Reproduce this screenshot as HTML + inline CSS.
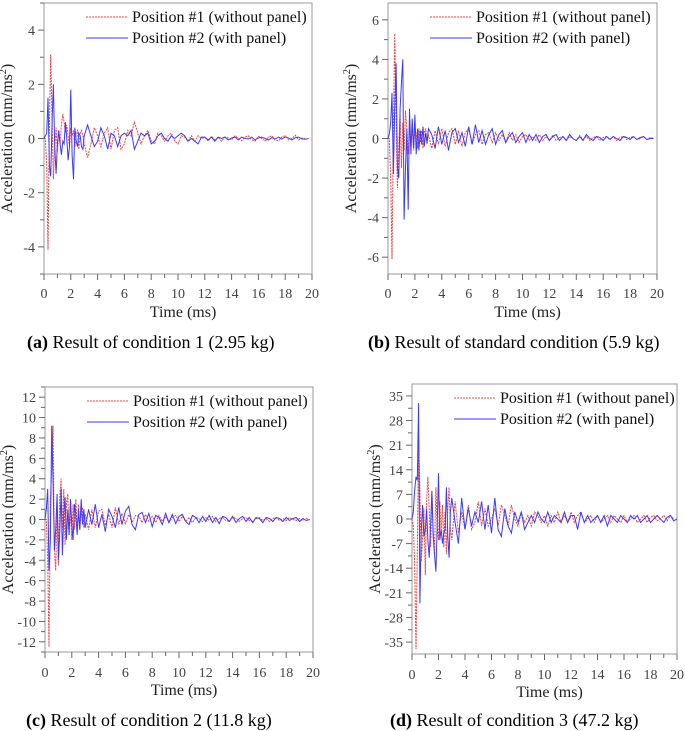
<!DOCTYPE html>
<html><head><meta charset="utf-8">
<style>
body{margin:0;background:#fff;width:685px;height:731px;overflow:hidden;font-family:"Liberation Serif",serif;}
svg{position:absolute;left:0;top:0}
</style></head>
<body>
<svg id="chart" width="685" height="731"></svg>
<script>
// shared time axis (ms)
const timeFine = [0,0.1,0.2,0.3,0.4,0.5,0.6,0.7,0.8,0.9,1.0,1.1,1.2,1.3,1.4,1.5,1.6,1.7,1.8,1.9,2.0,2.1,2.2,2.3,2.4,2.5,2.6,2.7,2.8,2.9,3.0];
const timeCoarse = [3.25,3.5,3.75,4,4.25,4.5,4.75,5,5.25,5.5,5.75,6,6.25,6.5,6.75,7,7.25,7.5,7.75,8,8.25,8.5,8.75,9,9.25,9.5,9.75,10,10.25,10.5,10.75,11,11.25,11.5,11.75,12,12.25,12.5,12.75,13,13.25,13.5,13.75,14,14.25,14.5,14.75,15,15.25,15.5,15.75,16,16.25,16.5,16.75,17,17.25,17.5,17.75,18,18.25,18.5,18.75,19,19.25,19.5,19.75,20];
const xTicks = [0,2,4,6,8,10,12,14,16,18,20];

// Panel (a)
const aP1 = [0,0,-1,-4.1,0.5,3.1,0.8,-1.5,-0.3,0.4,-0.5,0.3,-0.2,0.5,0.9,0.6,0.2,0.5,0.1,-0.3,0.4,0.1,0.3,-0.3,0.2,0.3,-0.4,0.2,0.3,0.1,-0.2,
 -0.7,-0.2,0.4,0.1,-0.3,0.2,0.4,-0.4,0.3,0.4,-0.4,-0.2,0.3,0.1,0.6,0.2,-0.2,0.1,0.3,-0.1,-0.2,0.2,0.1,-0.1,0.1,0.2,-0.1,-0.2,0.1,0.05,-0.1,0.1,-0.1,0.1,0,0.05,
 -0.1,0.08,-0.05,0.05,-0.1,0.05,0.02,-0.05,0.1,0,-0.08,0.05,0.1,-0.05,-0.1,0.08,0,-0.1,0.05,0.1,-0.05,-0.08,0.06,0.1,-0.05,0,0.12,-0.05,0.02,0];
const aP2 = [0,0.1,0.2,1.5,-1.0,-1.4,0.5,2.0,-0.3,-1.3,-0.2,0.3,-0.2,-0.6,-0.1,-0.2,0.6,0,-0.8,-0.3,1.8,-0.6,-1.5,0.4,-0.1,-0.3,0.2,0.1,-0.3,-0.4,0.1,
 0.5,0.1,-0.3,-0.1,0.4,0.1,-0.4,0.2,0.1,-0.3,0.1,0.2,0.1,0.3,-0.4,-0.1,0.2,0.1,0.2,-0.2,-0.1,0.1,0.2,0,-0.1,0.1,0,0.1,0.2,0.1,-0.1,0,-0.1,-0.2,0.05,
 0.05,-0.05,0.05,-0.1,0.05,0,0.05,-0.05,0.02,0.05,-0.05,0.05,0,-0.02,0.05,-0.05,0.02,0.05,0,-0.05,0.03,-0.02,0.05,-0.02,0.06,0.02,-0.05,0.03,0.05,-0.02,-0.03,0];
const aYTicks = [-4,-2,0,2,4];

// Panel (b)
const bP1 = [0,0,-2,-6.1,0.5,5.3,1.2,-2.5,-0.5,1.2,-1.5,0.8,-0.6,1.4,0.5,-0.8,0.9,-0.4,0.7,-0.6,0.6,0.2,-0.5,0.5,-0.2,0.4,-0.5,0.3,0.5,-0.3,0.2,
 -0.5,0.4,-0.3,0.5,-0.4,0.3,0.5,-0.3,0.4,-0.4,0.3,0.5,-0.3,0.2,0.4,-0.3,0.2,0.3,-0.2,0.3,-0.1,0.2,-0.2,0.3,-0.1,0.2,-0.2,0.1,0.2,-0.1,0.1,-0.1,0.2,-0.1,0.1,
 -0.1,0.15,-0.1,0.05,0.1,-0.1,0.1,0,-0.1,0.15,-0.05,0.1,-0.1,0.05,0.1,-0.1,0.05,0.1,-0.05,0.1,-0.1,0.05,0.1,-0.05,0.05,0.1,-0.05,0,0.1,-0.05,0.05,0];
const bP2 = [0,0.2,0.8,2.3,-1.8,1.5,3.8,-1.5,-2.0,1.5,2.8,4.0,-4.1,-1.5,0.5,-3.6,1.5,-0.8,1.0,-0.5,1.2,-0.8,0.5,-0.6,0.4,-0.3,0.6,-0.4,0.3,-0.2,0.5,
 0.2,-0.5,0.6,-0.3,0.4,-0.6,0.3,0.5,-0.2,0.3,-0.4,0.6,-0.3,0.7,-0.2,0.4,-0.3,0.2,0.5,-0.3,0.2,0.4,-0.2,0.1,0.3,-0.2,0.1,0.3,-0.2,0.2,-0.1,0.2,-0.2,0.1,0.2,
 -0.1,0.1,0.2,-0.1,0.1,-0.1,0.2,0,-0.1,0.1,-0.1,0.2,0,-0.1,0.1,0.05,-0.1,0.1,-0.05,0.1,0,-0.1,0.1,0.05,-0.05,0.1,-0.05,0.05,0.1,-0.05,0,0];
const bYTicks = [-6,-4,-2,0,2,4,6];

// Panel (c)
const cP1 = [0,0,-4,-12.5,2,5,9.2,-3,-5,1.5,-4.5,2,4,-1,3,-2.5,1.5,2.5,-1.5,1,-2,1.5,-1,2,-1.2,1.5,-1,0.8,1.2,-0.8,0.5,
 -1,1,-0.8,0.8,1,-0.6,0.5,-0.8,1.2,-0.5,0.6,-0.4,0.5,-0.3,0.4,0.3,-0.3,0.5,-0.2,0.3,-0.3,0.4,-0.2,0.3,-0.3,0.2,0.4,-0.2,0.3,-0.2,0.2,-0.3,0.2,0.1,-0.2,
 0.2,-0.1,0.3,-0.2,0.1,0.2,-0.1,-0.2,0.2,0.1,-0.2,0.1,0.2,-0.1,-0.2,0.1,0.2,-0.1,0.1,-0.2,0.1,0.2,-0.1,0.1,-0.1,0.2,0,-0.1,0.1,-0.1,0.1,0];
const cP2 = [0,1,3,-5,-2,9.2,4,-3,-1,2.5,-4,-1.5,3,-3.5,0.5,2.2,-2,1,-1.5,2,-0.5,-2,1.5,0.5,-1.5,1,-1,2,-0.5,1,-0.8,
 1,-0.5,1.5,-0.8,0.5,-1.2,1,0.3,-0.8,1.2,-0.5,0.8,1.3,-0.5,-1,0.5,0.7,-0.3,0.6,-0.7,0.4,0.2,-0.5,0.6,-0.3,0.5,-0.4,0.3,0.5,-0.2,-0.5,0.4,0.2,-0.3,0.3,
 -0.2,0.4,-0.3,0.2,-0.4,0.3,0.2,-0.2,0.3,-0.3,0.1,0.3,-0.2,0.2,-0.3,0.2,0.1,-0.3,0.2,0.1,-0.2,0.2,0.1,-0.2,0.2,-0.1,0.1,0.2,-0.2,0.1,-0.1,0];
const cYTicks = [-12,-10,-8,-6,-4,-2,0,2,4,6,8,10,12];

// Panel (d)
const dP1 = [0,-2,-12,-37,-10,23,8,-12,-5,3,-16,5,12,3,-8,8,-3,-10,9,-2,-6,5,-4,4,-8,2,-10,3,9,-3,-6,
 5,-4,2,-3,4,-3,-1,5,-2,3,-2,0,3,-2,4,1,-2,4,0,-2,2,-1,1,-2,2,1,-1,1,-2,1,-1,2,-1,1,-1,2,
 -1,1,2,-1,0,1,-1,1,-1,0,1,-1,1,0,-1,1,-1,0,1,-1,0,1,-1,0.5,1,-0.5,0,1,-0.5,1,0];
const dP2 = [0,2,8,12,11,33,-24,-3,4,-5,-3,3,-6,-11,-2,8,-5,-10,-15,-2,13,-6,-3,-7,-4,-3,9,-5,-11,2,6,
 -1,-7,6,-3,3,-2,2,-1,5,-3,4,-4,6,-3,-5,3,-2,-4,2,-1,2,-3,-1,1,-1,2,0,-1,2,-1,1,0,-1,2,-1,1,
 1,-3,2,-1,1,-1,0,1,-1,1,-2,1,0,-1,1,0,-1,1,0,1,-1,0,1,-1,0,1,0,-1,0.5,1,-0.5,0];
const dYTicks = [-35,-28,-21,-14,-7,0,7,14,21,28,35];

const NS = "http://www.w3.org/2000/svg";
const svg = document.getElementById('chart');
function mk(tag, attrs, parent){ const e=document.createElementNS(NS,tag); for(const k in attrs) e.setAttribute(k,attrs[k]); (parent||svg).appendChild(e); return e; }
const times = timeFine.concat(timeCoarse);

function panel(id, L, R, T, B, ymin, ymax, yTicks, p1, p2, caption, capBold, capX, capY, labOff, titleOff){
  const g = mk('g', {});
  
  
  const xs = v => L + (v/20)*(R-L);
  const ys = v => B - (v-ymin)/(ymax-ymin)*(B-T);
  const frame = mk('rect', {x:L,y:T,width:R-L,height:B-T,fill:'none',stroke:'#999','stroke-width':1}, g);
  
  
  for(let t=0;t<=20;t++){
    const major = t%2===0;
    mk('line',{x1:xs(t),x2:xs(t),y1:B,y2:B+(major?6:4),stroke:'#666'},g);
  }
  xTicks.forEach(t=>{
    const tx = mk('text',{x:xs(t),y:B+labOff,'text-anchor':'middle','font-size':14,fill:'#444'},g);
    tx.textContent = t;
    
    
  });
  const step = yTicks[1]-yTicks[0];
  for(let v=yTicks[0]-step/2; v<=yTicks[yTicks.length-1]+step/2+1e-9; v+=step/2){
    if (v < ymin || v > ymax) continue;
    const major = Math.abs(Math.round(v/step)*step - v) < 1e-6;
    mk('line',{x1:L-(major?6:4),x2:L,y1:ys(v),y2:ys(v),stroke:'#666'},g);
  }
  yTicks.forEach(v=>{
    const tx = mk('text',{x:L-9,y:ys(v)+5,'text-anchor':'end','font-size':14,fill:'#444'},g);
    tx.textContent = v;
    
    
  });
  const xt = mk('text',{x:(L+R)/2+5,y:B+titleOff,'text-anchor':'middle','font-size':16,fill:'#222'},g);
  xt.textContent = 'Time (ms)';
  
  
  const yt = mk('text',{x:0,y:0,'text-anchor':'middle','font-size':16,fill:'#222',transform:`translate(${L-32},${(T+B)/2}) rotate(-90)`},g);
  yt.innerHTML = 'Acceleration (mm/ms<tspan font-size="10" dy="-6">2</tspan><tspan dy="6">)</tspan>';
  
  
  const path = arr => arr.map((v,i)=>(i?'L':'M')+xs(times[i]).toFixed(1)+','+ys(v).toFixed(1)).join('');
  const s1 = mk('path',{d:path(p1),fill:'none',stroke:'#f04040','stroke-width':1,'stroke-dasharray':'2,1'},g);
  
  
  const s2 = mk('path',{d:path(p2),fill:'none',stroke:'#3a3aff','stroke-width':1},g);
  
  
  const lx = L+42, ly = T+14;
  const lg = mk('g',{},g);
  
  
  mk('line',{x1:lx,x2:lx+42,y1:ly,y2:ly,stroke:'#f04040','stroke-dasharray':'2,1'},lg);
  const l1 = mk('text',{x:lx+46,y:ly+5,'font-size':16,fill:'#111'},lg);
  l1.textContent = 'Position #1 (without panel)';
  
  
  mk('line',{x1:lx,x2:lx+42,y1:ly+21,y2:ly+21,stroke:'#3a3aff'},lg);
  const l2 = mk('text',{x:lx+46,y:ly+26,'font-size':16,fill:'#111'},lg);
  l2.textContent = 'Position #2 (with panel)';
  
  
  const cap = mk('text',{x:capX,y:capY,'font-size':18,fill:'#000'},g);
  cap.innerHTML = `<tspan font-weight="bold">${capBold}</tspan> ${caption}`;
  
  
}

panel('a', 44, 312, 3, 274, -5, 5, aYTicks, aP1, aP2, 'Result of condition 1 (2.95 kg)', '(a)', 27, 348, 24, 43);
panel('b', 388, 657, 3, 274, -6.85, 6.85, bYTicks, bP1, bP2, 'Result of standard condition (5.9 kg)', '(b)', 368, 348, 24, 43);
panel('c', 45, 313, 387, 652, -13, 13, cYTicks, cP1, cP2, 'Result of condition 2 (11.8 kg)', '(c)', 26, 726, 25, 43);
panel('d', 412, 677, 384, 654, -38.4, 38.4, dYTicks, dP1, dP2, 'Result of condition 3 (47.2 kg)', '(d)', 390, 726, 25, 43);
</script>
</body></html>
